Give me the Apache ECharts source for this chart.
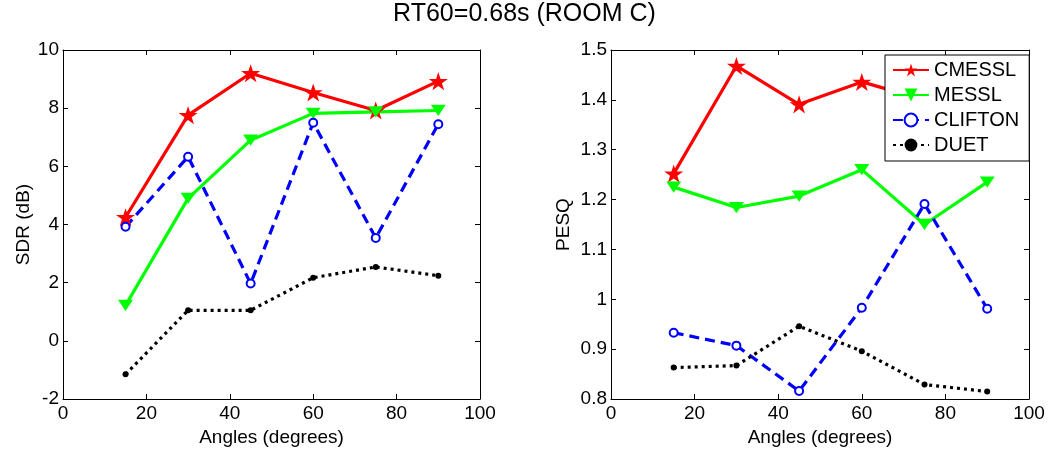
<!DOCTYPE html>
<html>
<head>
<meta charset="utf-8">
<script src="https://cdn.jsdelivr.net/npm/echarts@6/dist/echarts.min.js"></script>
<style>
html,body{margin:0;padding:0;background:#fff;}
#chart{width:1049px;height:455px;}
</style>
</head>
<body>
<div id="chart"></div>
<script>
// ---- data ----
var angles = [15, 30, 45, 60, 75, 90];
var seriesNames = ['CMESSL', 'MESSL', 'CLIFTON', 'DUET'];
// SDR (dB), left panel
var sdrCMESSL  = [4.25, 7.76, 9.2, 8.54, 7.92, 8.93];
var sdrMESSL   = [1.22, 4.9, 6.9, 7.82, 7.87, 7.92];
var sdrCLIFTON = [3.92, 6.33, 1.97, 7.5, 3.54, 7.45];
var sdrDUET    = [-1.15, 1.05, 1.05, 2.17, 2.54, 2.24];
// PESQ, right panel
var pesqCMESSL  = [1.252, 1.468, 1.391, 1.436, 1.40, 1.42];
var pesqMESSL   = [1.225, 1.184, 1.207, 1.260, 1.150, 1.235];
var pesqCLIFTON = [0.933, 0.907, 0.816, 0.983, 1.191, 0.981];
var pesqDUET    = [0.863, 0.867, 0.946, 0.896, 0.829, 0.815];
var xTicks = [0, 20, 40, 60, 80, 100];
var sdrTicks = [-2, 0, 2, 4, 6, 8, 10];
var pesqTicks = [0.8, 0.9, 1.0, 1.1, 1.2, 1.3, 1.4, 1.5];
var titleText = 'RT60=0.68s (ROOM C)';
var xName = 'Angles (degrees)';
var sdrName = 'SDR (dB)';
var pesqName = 'PESQ';

// ---- styles ----
var FONT = '"Liberation Sans", Arial, Helvetica, sans-serif';
var STAR = 'path://M50,0 L61.2,34.5 L97.6,34.5 L68.2,55.9 L79.4,90.5 L50,69.1 L20.6,90.5 L31.8,55.9 L2.4,34.5 L38.8,34.5 Z';
var TRI_DOWN = 'path://M0,0 L100,0 L50,86.6 Z';
var styles = {
  CMESSL:  {color: '#ff0000', type: 'solid', symbol: STAR, size: 19},
  MESSL:   {color: '#00ff00', type: 'solid', symbol: TRI_DOWN, size: [15, 13]},
  CLIFTON: {color: '#0000ff', type: [10, 6], symbol: 'emptyCircle', size: 8},
  DUET:    {color: '#000000', type: [3, 4], symbol: 'circle', size: 6}
};

function pairs(vals) {
  return angles.map(function (a, i) { return [a, vals[i]]; });
}
function mkSeries(name, vals, gi) {
  var s = styles[name];
  return {
    name: name, type: 'line',
    xAxisIndex: gi * 2, yAxisIndex: gi * 2,
    data: pairs(vals),
    symbol: s.symbol, symbolSize: s.size, symbolKeepAspect: true,
    showAllSymbol: true,
    lineStyle: {color: s.color, width: 3.2, type: s.type},
    itemStyle: {color: s.color, borderColor: s.color, borderWidth: name === 'CLIFTON' ? 3 : 0},
    emphasis: {disabled: true},
    z: 2
  };
}
function xAxes(gi) {
  var base = {
    type: 'value', gridIndex: gi, min: xTicks[0], max: xTicks[xTicks.length - 1], interval: xTicks[1] - xTicks[0],
    splitLine: {show: false},
    axisLine: {show: true, onZero: false, lineStyle: {color: '#000', width: 1}},
    axisTick: {show: true, inside: true, length: 5, lineStyle: {color: '#000'}}
  };
  var bottom = Object.assign({}, base, {
    position: 'bottom', name: xName, nameLocation: 'middle', nameGap: 26,
    nameTextStyle: {fontFamily: FONT, fontSize: 19, color: '#000'},
    axisLabel: {show: true, margin: 5, fontFamily: FONT, fontSize: 19, color: '#000'}
  });
  var top = Object.assign({}, base, {position: 'top', axisLabel: {show: false}});
  return [bottom, top];
}
function yAxes(gi, ticks, name, gap, dec) {
  var base = {
    type: 'value', gridIndex: gi, min: ticks[0], max: ticks[ticks.length - 1],
    interval: Math.round((ticks[1] - ticks[0]) * 1000) / 1000,
    splitLine: {show: false},
    axisLine: {show: true, onZero: false, lineStyle: {color: '#000', width: 1}},
    axisTick: {show: true, inside: true, length: 5, lineStyle: {color: '#000'}}
  };
  var left = Object.assign({}, base, {
    position: 'left', name: name, nameLocation: 'middle', nameGap: gap, nameRotate: 90,
    nameTextStyle: {fontFamily: FONT, fontSize: 19, color: '#000'},
    axisLabel: {show: true, margin: 4, fontFamily: FONT, fontSize: 19, color: '#000',
      formatter: function (v) { return String(Math.round(v * Math.pow(10, dec)) / Math.pow(10, dec)); }}
  });
  var right = Object.assign({}, base, {position: 'right', axisLabel: {show: false}});
  return [left, right];
}

var option = {
  animation: false,
  backgroundColor: '#fff',
  title: {
    text: titleText, left: 'center', top: 2, padding: 0,
    textStyle: {fontFamily: FONT, fontSize: 25, fontWeight: 'normal', color: '#000'}
  },
  legend: {
    data: seriesNames,
    orient: 'vertical', left: 885, top: 55,
    padding: [5, 10, 6, 7],
    itemWidth: 36, itemHeight: 16, itemGap: 5,
    backgroundColor: '#fff', borderColor: '#000', borderWidth: 1, borderRadius: 0,
    textStyle: {fontFamily: FONT, fontSize: 20, color: '#000', lineHeight: 20},
    selectedMode: false,
    z: 10
  },
  grid: [
    {left: 63, top: 50, width: 417, height: 349, containLabel: false},
    {left: 611, top: 50, width: 418, height: 349, containLabel: false}
  ],
  xAxis: xAxes(0).concat(xAxes(1)),
  yAxis: yAxes(0, sdrTicks, sdrName, 30, 0).concat(yAxes(1, pesqTicks, pesqName, 38, 1)),
  series: [
    mkSeries('CMESSL', sdrCMESSL, 0),
    mkSeries('MESSL', sdrMESSL, 0),
    mkSeries('CLIFTON', sdrCLIFTON, 0),
    mkSeries('DUET', sdrDUET, 0),
    mkSeries('CMESSL', pesqCMESSL, 1),
    mkSeries('MESSL', pesqMESSL, 1),
    mkSeries('CLIFTON', pesqCLIFTON, 1),
    mkSeries('DUET', pesqDUET, 1)
  ]
};
var chart = echarts.init(document.getElementById('chart'), null, {renderer: 'canvas'});
chart.setOption(option);
</script>
</body>
</html>
